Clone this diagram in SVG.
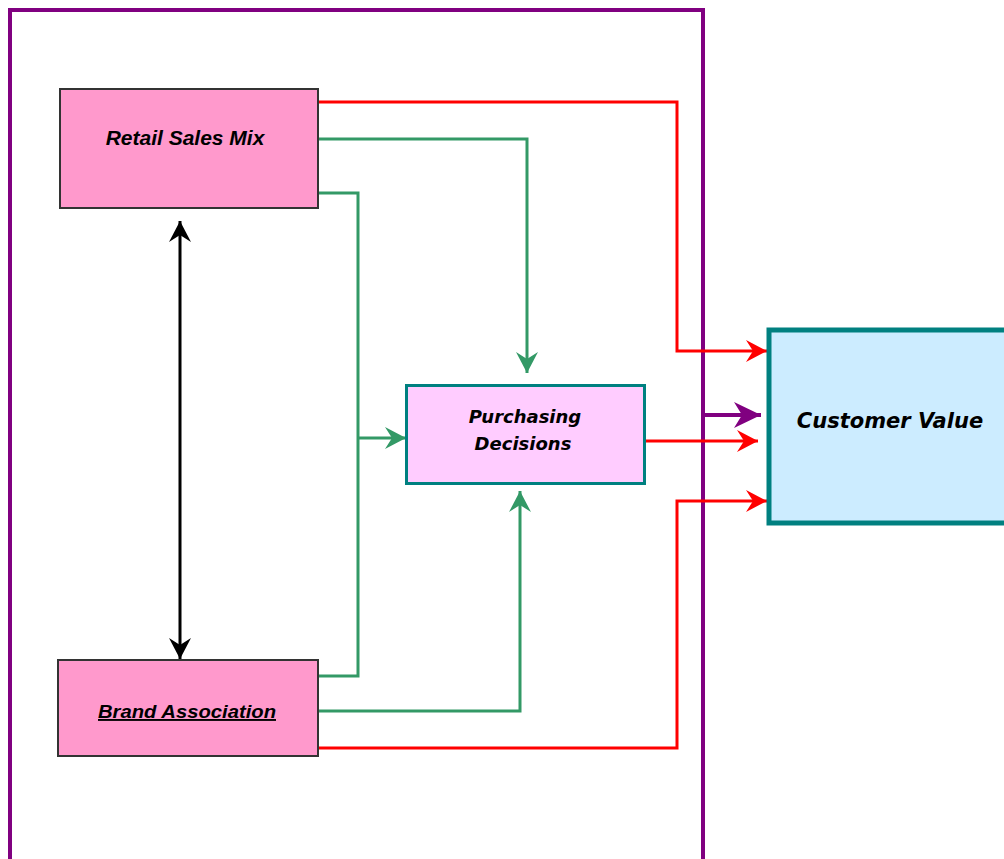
<svg xmlns="http://www.w3.org/2000/svg" width="1004" height="859" viewBox="0 0 1004 859">
<defs>
<style>
.lbl{font-family:"Liberation Sans",Arial,sans-serif;font-weight:bold;font-style:italic;fill:#000;text-anchor:middle}
.vlbl{font-family:"DejaVu Sans",Verdana,sans-serif;font-weight:bold;font-style:italic;fill:#000;text-anchor:middle}
.red{fill:none;stroke:#FF0000;stroke-width:3}
.grn{fill:none;stroke:#339966;stroke-width:3}
.blk{fill:none;stroke:#000;stroke-width:3}
.pur{fill:none;stroke:#800080;stroke-width:4}
.pink{fill:#FF99CC;stroke:#333;stroke-width:2}
</style>
<marker id="aR" markerUnits="userSpaceOnUse" viewBox="0 0 22 24" markerWidth="22" markerHeight="24" refX="21" refY="12" orient="auto"><path d="M0,1 L21,12 L0,23 L7,12 z" fill="#FF0000"/></marker>
<marker id="aG" markerUnits="userSpaceOnUse" viewBox="0 0 22 24" markerWidth="22" markerHeight="24" refX="21" refY="12" orient="auto"><path d="M0,1 L21,12 L0,23 L7,12 z" fill="#339966"/></marker>
<marker id="aK" markerUnits="userSpaceOnUse" viewBox="0 0 22 24" markerWidth="22" markerHeight="24" refX="21" refY="12" orient="auto-start-reverse"><path d="M0,1 L21,12 L0,23 L7,12 z" fill="#000"/></marker>
<marker id="aP" markerUnits="userSpaceOnUse" viewBox="0 0 28 28" markerWidth="28" markerHeight="28" refX="27" refY="14" orient="auto"><path d="M0,1 L27,14 L0,27 L8,14 z" fill="#800080"/></marker>
</defs>
<rect width="1004" height="859" fill="#fff"/>
<g id="frame"><path class="pur" d="M10,880 L10,10 L703,10 L703,880"/></g>
<g id="connectors">
<path class="red" d="M318,102 L677,102 L677,351 L767,351" marker-end="url(#aR)"/>
<path class="grn" d="M318,139 L527,139 L527,373" marker-end="url(#aG)"/>
<path class="grn" d="M318,193 L358,193 L358,676 L318,676"/>
<path class="grn" d="M358,438 L406,438" marker-end="url(#aG)"/>
<path class="grn" d="M318,711 L520,711 L520,491" marker-end="url(#aG)"/>
<path class="red" d="M318,748 L677,748 L677,501 L767,501" marker-end="url(#aR)"/>
<path class="red" d="M645,441 L758,441" marker-end="url(#aR)"/>
<path class="pur" d="M703,415 L761,415" marker-end="url(#aP)"/>
<path class="blk" d="M180,221 L180,659" marker-start="url(#aK)" marker-end="url(#aK)"/>
</g>
<g id="retail"><rect class="pink" x="60" y="89" width="258" height="119"/><text class="lbl" x="185" y="145" font-size="21">Retail Sales Mix</text></g>
<g id="brand"><rect class="pink" x="58" y="660" width="260" height="96"/><text class="lbl" x="187" y="718" font-size="19" text-decoration="underline" textLength="178" lengthAdjust="spacingAndGlyphs">Brand Association</text></g>
<g id="purchasing"><rect x="406.5" y="385.5" width="238" height="98" fill="#FFCCFF" stroke="#008080" stroke-width="3"/><text class="vlbl" x="525" y="423" font-size="18">Purchasing</text><text class="vlbl" x="523" y="450" font-size="18">Decisions</text></g>
<g id="customer"><rect x="769" y="330" width="250" height="193" fill="#CCECFF" stroke="#008080" stroke-width="5"/><text class="vlbl" x="890" y="428" font-size="21">Customer Value</text></g>
</svg>
